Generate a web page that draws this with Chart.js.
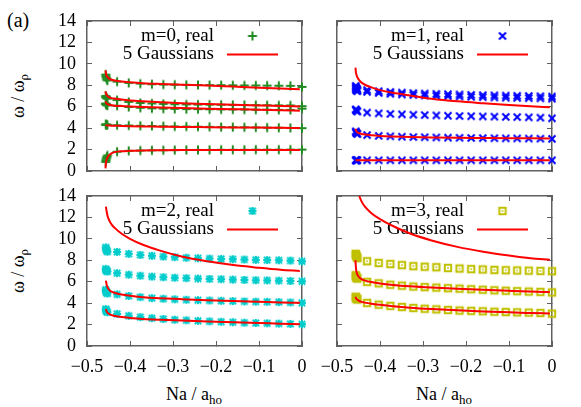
<!DOCTYPE html>
<html><head><meta charset="utf-8">
<script src="https://cdn.jsdelivr.net/npm/chart.js@4.4.0/dist/chart.umd.min.js"></script>
<style>
html,body{margin:0;padding:0;background:#fff;}
body{width:581px;height:407px;position:relative;overflow:hidden;font-family:'Liberation Serif','Times New Roman',serif;}
canvas{position:absolute;}
.t{position:absolute;font-size:18px;line-height:20px;white-space:nowrap;color:#000;text-align:center;}
.sub{font-size:13px;position:relative;top:4px;}
</style></head><body>
<div class="t" style="left:7px;top:9px;font-size:20px;line-height:22px;text-align:left;">(a)</div>
<div class="t" style="left:-42px;top:86px;width:120px;height:20px;transform:rotate(-90deg);">ω / ω<span class="sub">ρ</span></div>
<div class="t" style="left:-42px;top:261px;width:120px;height:20px;transform:rotate(-90deg);">ω / ω<span class="sub">ρ</span></div>
<div class="t" style="left:134px;top:384px;width:120px;">Na / a<span class="sub">ho</span></div>
<div class="t" style="left:384px;top:384px;width:120px;">Na / a<span class="sub">ho</span></div>
<canvas id="c0" width="275" height="180" style="left:37px;top:0px;"></canvas>
<canvas id="c1" width="260" height="180" style="left:312px;top:0px;"></canvas>
<canvas id="c2" width="275" height="227" style="left:37px;top:180px;"></canvas>
<canvas id="c3" width="260" height="227" style="left:312px;top:180px;"></canvas>
<script>
// ---------- data ----------
const xTicks = [-0.5, -0.4, -0.3, -0.2, -0.1, 0];
const xTickLabels = ['−0.5', '−0.4', '−0.3', '−0.2', '−0.1', '0'];
const yTicks = [0, 2, 4, 6, 8, 10, 12, 14];
const yTickLabels = ['0', '2', '4', '6', '8', '10', '12', '14'];

// x positions of the "real" points (5 near collapse + 17 regular)
const xReal = [-0.4565, -0.456, -0.455, -0.454, -0.4525,
  -0.43, -0.403, -0.376, -0.349, -0.3225, -0.296, -0.269, -0.242, -0.215,
  -0.188, -0.161, -0.134, -0.1075, -0.081, -0.054, -0.027, 0];
// x positions of the "5 Gaussians" curves
const xFit = [-0.457, -0.456, -0.4545, -0.452, -0.448, -0.443, -0.435, -0.42, -0.4,
  -0.37, -0.33, -0.28, -0.22, -0.16, -0.1, -0.05, -0.005];

// m = 0
const m0Real1 = [0.85, 1.0, 1.15, 1.3, 1.45, 1.8, 1.88, 1.91, 1.93, 1.94, 1.95, 1.96, 1.97, 1.97, 1.98, 1.98, 1.98, 1.99, 1.99, 1.99, 2.0, 2.0];
const m0Real2 = [4.35, 4.33, 4.32, 4.3, 4.3, 4.27, 4.25, 4.22, 4.2, 4.18, 4.16, 4.15, 4.13, 4.12, 4.1, 4.09, 4.08, 4.06, 4.05, 4.04, 4.02, 4.0];
const m0Real3 = [6.3, 6.25, 6.2, 6.15, 6.12, 6.09, 5.97, 5.9, 5.85, 5.82, 5.8, 5.78, 5.77, 5.76, 5.75, 5.74, 5.73, 5.72, 5.72, 5.71, 5.7, 5.82];
const m0Real4 = [7.0, 6.9, 6.85, 6.8, 6.75, 6.62, 6.45, 6.35, 6.3, 6.26, 6.23, 6.21, 6.2, 6.19, 6.18, 6.17, 6.16, 6.15, 6.14, 6.13, 6.12, 6.05];
const m0Real5 = [9.0, 8.85, 8.7, 8.55, 8.45, 8.34, 8.22, 8.15, 8.1, 8.07, 8.05, 8.04, 8.03, 8.02, 8.01, 8.0, 7.99, 7.98, 7.97, 7.96, 7.95, 7.85];
const m0Fit1 = [0.25, 0.75, 1.05, 1.3, 1.5, 1.65, 1.76, 1.84, 1.88, 1.91, 1.93, 1.95, 1.96, 1.96, 1.97, 1.97, 1.97];
const m0Fit2 = [4.3, 4.28, 4.26, 4.25, 4.24, 4.23, 4.22, 4.2, 4.18, 4.16, 4.14, 4.11, 4.09, 4.07, 4.05, 4.03, 4.02];
const m0Fit3 = [6.5, 6.38, 6.3, 6.24, 6.18, 6.14, 6.1, 6.06, 6.02, 5.97, 5.92, 5.87, 5.82, 5.77, 5.72, 5.67, 5.63];
const m0Fit4 = [7.45, 7.25, 7.1, 6.98, 6.87, 6.8, 6.76, 6.67, 6.58, 6.5, 6.42, 6.33, 6.25, 6.18, 6.12, 6.07, 6.03];
const m0Fit5 = [9.4, 9.1, 8.9, 8.75, 8.62, 8.52, 8.44, 8.35, 8.28, 8.2, 8.13, 8.06, 7.98, 7.88, 7.78, 7.7, 7.63];

// m = 1
const m1Real1 = [1.0, 1.0, 1.0, 1.0, 1.0, 1.0, 1.0, 1.0, 1.0, 1.0, 1.0, 1.0, 1.0, 1.0, 1.0, 1.0, 1.0, 1.0, 1.0, 1.0, 1.0, 1.0];
const m1Real2 = [3.7, 3.62, 3.55, 3.5, 3.45, 3.35, 3.28, 3.24, 3.2, 3.17, 3.15, 3.13, 3.11, 3.1, 3.08, 3.07, 3.06, 3.05, 3.04, 3.03, 3.02, 3.0];
const m1Real3 = [5.75, 5.7, 5.65, 5.6, 5.55, 5.45, 5.38, 5.33, 5.29, 5.25, 5.22, 5.19, 5.16, 5.13, 5.11, 5.09, 5.07, 5.05, 5.03, 5.01, 4.98, 4.92];
const m1Real4 = [7.95, 7.85, 7.75, 7.65, 7.6, 7.55, 7.45, 7.38, 7.32, 7.27, 7.23, 7.2, 7.17, 7.14, 7.11, 7.08, 7.06, 7.04, 7.02, 7.0, 6.98, 6.95];
const m1Real5 = [7.7, 7.6, 7.55, 7.5, 7.45, 7.38, 7.28, 7.2, 7.14, 7.09, 7.05, 7.01, 6.98, 6.95, 6.92, 6.89, 6.86, 6.84, 6.82, 6.8, 6.78, 6.75];
const m1Fit1 = [1.0, 1.0, 1.0, 1.0, 1.0, 1.0, 1.0, 1.0, 1.0, 1.0, 1.0, 1.0, 1.0, 1.0, 1.0, 1.0, 1.0];
const m1Fit2 = [3.95, 3.8, 3.7, 3.6, 3.52, 3.46, 3.4, 3.33, 3.27, 3.22, 3.17, 3.13, 3.1, 3.08, 3.06, 3.05, 3.04];
const m1Fit3 = [9.65, 9.2, 8.95, 8.7, 8.45, 8.25, 8.05, 7.8, 7.55, 7.3, 7.05, 6.75, 6.5, 6.32, 6.16, 6.04, 5.95];

// m = 2
const m2Real1 = [3.45, 3.35, 3.3, 3.2, 3.15, 3.0, 2.82, 2.7, 2.6, 2.52, 2.45, 2.4, 2.35, 2.3, 2.26, 2.22, 2.18, 2.15, 2.12, 2.09, 2.06, 2.03];
const m2Real2 = [5.25, 5.15, 5.05, 4.95, 4.9, 4.82, 4.67, 4.56, 4.47, 4.41, 4.36, 4.32, 4.28, 4.25, 4.22, 4.19, 4.16, 4.14, 4.12, 4.1, 4.07, 4.03];
const m2Real3 = [7.2, 7.1, 7.05, 7.0, 6.95, 6.8, 6.66, 6.56, 6.48, 6.42, 6.37, 6.33, 6.29, 6.26, 6.23, 6.2, 6.17, 6.14, 6.12, 6.1, 6.07, 6.04];
const m2Real4 = [9.2, 9.1, 9.0, 8.9, 8.8, 8.78, 8.6, 8.5, 8.42, 8.35, 8.29, 8.24, 8.2, 8.16, 8.13, 8.1, 8.07, 8.04, 8.02, 8.0, 7.97, 7.9];
const m2Fit1 = [null, 3.45, 3.25, 3.1, 2.97, 2.88, 2.8, 2.7, 2.62, 2.53, 2.45, 2.37, 2.29, 2.22, 2.15, 2.08, 2.03];
const m2Fit2 = [null, 6.1, 5.75, 5.45, 5.22, 5.07, 4.95, 4.8, 4.68, 4.56, 4.46, 4.37, 4.28, 4.2, 4.13, 4.07, 4.03];
const m2Fit3 = [null, 13.0, 12.6, 12.1, 11.7, 11.35, 11.0, 10.5, 10.0, 9.45, 8.9, 8.35, 7.9, 7.55, 7.3, 7.12, 7.0];

// m = 3
const m3Real1 = [4.6, 4.5, 4.45, 4.4, 4.35, 4.02, 3.86, 3.74, 3.64, 3.55, 3.48, 3.42, 3.36, 3.31, 3.28, 3.24, 3.2, 3.17, 3.14, 3.12, 3.08, 3.02];
const m3Real2 = [6.6, 6.5, 6.4, 6.35, 6.3, 5.98, 5.85, 5.72, 5.63, 5.55, 5.5, 5.45, 5.4, 5.35, 5.3, 5.25, 5.2, 5.16, 5.12, 5.08, 5.05, 5.0];
const m3Real3 = [8.6, 8.5, 8.4, 8.3, 8.2, 7.91, 7.75, 7.65, 7.55, 7.45, 7.4, 7.35, 7.28, 7.23, 7.18, 7.14, 7.1, 7.07, 7.05, 7.03, 7.01, 6.98];
const m3Fit1 = [4.6, 4.48, 4.4, 4.3, 4.2, 4.12, 4.05, 3.95, 3.85, 3.72, 3.58, 3.45, 3.33, 3.23, 3.14, 3.08, 3.03];
const m3Fit2 = [8.0, 7.3, 6.9, 6.6, 6.4, 6.25, 6.1, 5.97, 5.84, 5.7, 5.57, 5.45, 5.34, 5.24, 5.15, 5.08, 5.03];
const m3Fit3 = [16.5, 15.8, 15.2, 14.6, 14.0, 13.5, 13.0, 12.4, 11.85, 11.2, 10.5, 9.85, 9.25, 8.8, 8.45, 8.2, 8.05];

const panelLabels = ['m=0, real', 'm=1, real', 'm=2, real', 'm=3, real'];
const fitLabel = '5 Gaussians';

// ---------- styles ----------
const RED = '#ff0000';
const FRAME = '#606060';
const FONT = "'Liberation Serif', 'Times New Roman', serif";

function makeMarker(type, color) {
  const s = 12;
  const c = document.createElement('canvas');
  c.width = s; c.height = s;
  const g = c.getContext('2d');
  g.strokeStyle = color; g.fillStyle = color; g.lineWidth = 2;
  const m = s / 2;
  g.beginPath();
  if (type === 'plus') {
    g.moveTo(m - 4.5, m); g.lineTo(m + 4.5, m);
    g.moveTo(m, m - 4.5); g.lineTo(m, m + 4.5);
  } else if (type === 'x') {
    g.moveTo(m - 3.5, m - 3.5); g.lineTo(m + 3.5, m + 3.5);
    g.moveTo(m + 3.5, m - 3.5); g.lineTo(m - 3.5, m + 3.5);
  } else if (type === 'star') {
    g.moveTo(m - 4, m); g.lineTo(m + 4, m);
    g.moveTo(m, m - 4); g.lineTo(m, m + 4);
    g.moveTo(m - 3.2, m - 3.2); g.lineTo(m + 3.2, m + 3.2);
    g.moveTo(m + 3.2, m - 3.2); g.lineTo(m - 3.2, m + 3.2);
  } else if (type === 'square') {
    g.rect(m - 3.2, m - 3.2, 6.4, 6.4);
  }
  g.stroke();
  if (type === 'square') g.fillRect(m - 0.8, m - 0.8, 1.6, 1.6);
  return c;
}

const markers = [
  makeMarker('plus', '#228b22'),
  makeMarker('x', '#0000ff'),
  makeMarker('star', '#00cccc'),
  makeMarker('square', '#c0c000')
];

const gpLegend = {
  id: 'gpLegend',
  beforeDatasetsDraw(chart, args, opts) {
    const { ctx, chartArea: a } = chart;
    ctx.save();
    ctx.font = '19px ' + FONT;
    ctx.fillStyle = '#000';
    ctx.textAlign = 'right';
    ctx.textBaseline = 'middle';
    const tx = a.right - 88;
    const y1 = a.top + 15, y2 = a.top + 33.5;
    ctx.fillText(opts.label, tx, y1);
    ctx.fillText(fitLabel, tx, y2);
    const mk = opts.marker;
    ctx.drawImage(mk, a.right - 49.5 - mk.width / 2, y1 - mk.height / 2);
    ctx.strokeStyle = RED; ctx.lineWidth = 2;
    ctx.beginPath(); ctx.moveTo(a.right - 75, y2); ctx.lineTo(a.right - 24, y2); ctx.stroke();
    ctx.restore();
  }
};

function realDS(ys, mk) {
  return {
    data: xReal.map((x, i) => ({ x: x, y: ys[i] })),
    pointStyle: mk, pointRadius: 4, showLine: false, clip: false
  };
}
function fitDS(ys) {
  return {
    data: xFit.map((x, i) => ({ x: x, y: ys[i] })).filter(p => p.y !== null),
    showLine: true, borderColor: RED, borderWidth: 2, pointRadius: 0,
    cubicInterpolationMode: 'monotone', fill: false
  };
}

function noPad(s) { s.paddingLeft = 0; s.paddingRight = 0; s.paddingTop = 0; s.paddingBottom = 0; }

function scales(p) {
  const tickFont = { family: FONT, size: 18 };
  const grid = { drawOnChartArea: false, drawTicks: true, tickLength: -5, color: FRAME, lineWidth: 1 };
  const border = { display: true, color: FRAME, width: 1.5 };
  const setX = s => { s.ticks = xTicks.map(v => ({ value: v })); };
  const setY = s => { s.ticks = yTicks.map(v => ({ value: v })); };
  return {
    x: { type: 'linear', position: 'bottom', min: -0.5, max: 0, grid, border, afterBuildTicks: setX,
      ticks: { display: p.xLab, font: tickFont, color: '#000', padding: 15, maxRotation: 0, autoSkip: false,
        callback: (v, i) => xTickLabels[i] },
      afterFit: s => { s.height = p.B; noPad(s); } },
    x2: { type: 'linear', position: 'top', min: -0.5, max: 0, grid, border, afterBuildTicks: setX,
      ticks: { display: false }, afterFit: s => { s.height = p.T; noPad(s); } },
    y: { type: 'linear', position: 'left', min: 0, max: 14, grid, border, afterBuildTicks: setY,
      ticks: { display: p.yLab, font: tickFont, color: '#000', padding: 16, autoSkip: false,
        callback: (v, i) => yTickLabels[i] },
      afterFit: s => { s.width = p.L; noPad(s); } },
    y2: { type: 'linear', position: 'right', min: 0, max: 14, grid, border, afterBuildTicks: setY,
      ticks: { display: false }, afterFit: s => { s.width = p.R; noPad(s); } }
  };
}

function makeChart(id, p, datasets, k) {
  new Chart(document.getElementById(id), {
    type: 'scatter',
    data: { datasets },
    options: {
      responsive: false, animation: false, events: [],
      devicePixelRatio: 1,
      layout: { padding: 0, autoPadding: false },
      scales: scales(p),
      plugins: { legend: { display: false }, tooltip: { enabled: false },
        gpLegend: { label: panelLabels[k], marker: markers[k] } }
    },
    plugins: [gpLegend]
  });
}

makeChart('c0', { L: 50, R: 10, T: 21, B: 9, xLab: false, yLab: true }, [
  fitDS(m0Fit1), fitDS(m0Fit2), fitDS(m0Fit3), fitDS(m0Fit4), fitDS(m0Fit5),
  realDS(m0Real1, markers[0]), realDS(m0Real2, markers[0]), realDS(m0Real3, markers[0]),
  realDS(m0Real4, markers[0]), realDS(m0Real5, markers[0])
], 0);
makeChart('c1', { L: 25, R: 20, T: 21, B: 9, xLab: false, yLab: false }, [
  fitDS(m1Fit1), fitDS(m1Fit2), fitDS(m1Fit3),
  realDS(m1Real1, markers[1]), realDS(m1Real2, markers[1]), realDS(m1Real3, markers[1]),
  realDS(m1Real4, markers[1]), realDS(m1Real5, markers[1])
], 1);
makeChart('c2', { L: 50, R: 10, T: 16, B: 61, xLab: true, yLab: true }, [
  fitDS(m2Fit1), fitDS(m2Fit2), fitDS(m2Fit3),
  realDS(m2Real1, markers[2]), realDS(m2Real2, markers[2]), realDS(m2Real3, markers[2]),
  realDS(m2Real4, markers[2])
], 2);
makeChart('c3', { L: 25, R: 20, T: 16, B: 61, xLab: true, yLab: false }, [
  fitDS(m3Fit1), fitDS(m3Fit2), fitDS(m3Fit3),
  realDS(m3Real1, markers[3]), realDS(m3Real2, markers[3]), realDS(m3Real3, markers[3])
], 3);
</script>
</body></html>
